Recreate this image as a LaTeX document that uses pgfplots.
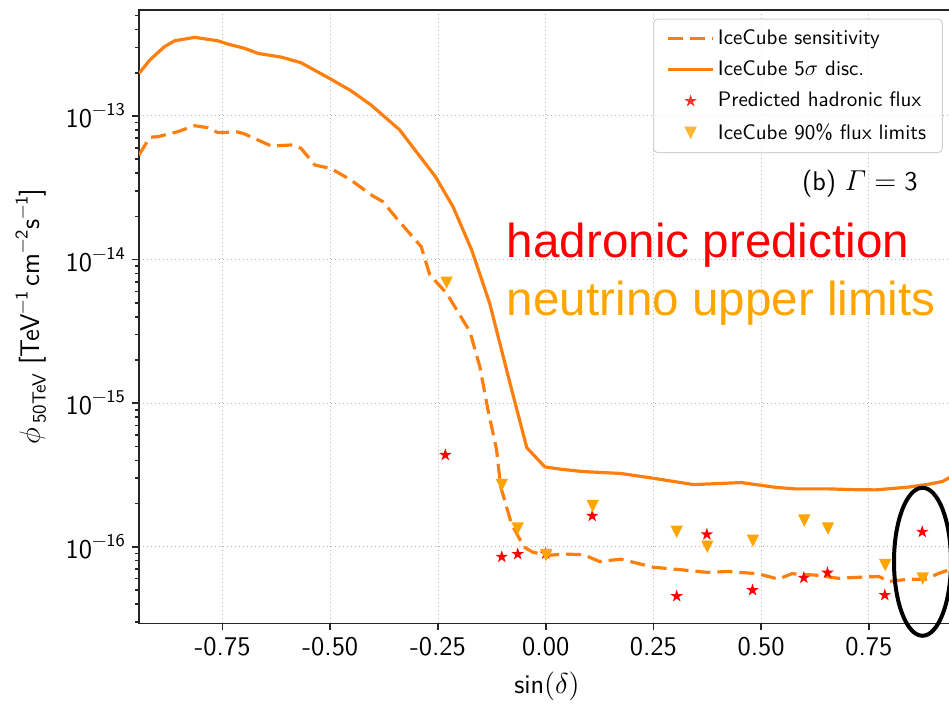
\documentclass[border=0pt]{standalone}
\usepackage{fontspec}
\usepackage{pgfplots}
\pgfplotsset{compat=1.18}
\newfontfamily\arialfont{Liberation Sans}
\definecolor{taborange}{HTML}{FF7F0E}
\definecolor{limorange}{HTML}{FFA500}
\definecolor{spine}{HTML}{262626}
\definecolor{gridgray}{HTML}{B0B0B0}
\newcommand{\tickfont}{\fontsize{13.5}{16}\selectfont\sffamily}
\newcommand{\supx}[1]{\raisebox{6pt}{\fontsize{9}{10}\selectfont #1}}
\newcommand{\subx}[1]{\raisebox{-3pt}{\fontsize{9.5}{10}\selectfont #1}}
\pgfdeclareplotmark{fstar}{%
  \pgfpathmoveto{\pgfqpointpolar{90}{\pgfplotmarksize}}%
  \pgfpathlineto{\pgfqpointpolar{126}{0.382\pgfplotmarksize}}%
  \pgfpathlineto{\pgfqpointpolar{162}{\pgfplotmarksize}}%
  \pgfpathlineto{\pgfqpointpolar{198}{0.382\pgfplotmarksize}}%
  \pgfpathlineto{\pgfqpointpolar{234}{\pgfplotmarksize}}%
  \pgfpathlineto{\pgfqpointpolar{270}{0.382\pgfplotmarksize}}%
  \pgfpathlineto{\pgfqpointpolar{306}{\pgfplotmarksize}}%
  \pgfpathlineto{\pgfqpointpolar{342}{0.382\pgfplotmarksize}}%
  \pgfpathlineto{\pgfqpointpolar{18}{\pgfplotmarksize}}%
  \pgfpathlineto{\pgfqpointpolar{54}{0.382\pgfplotmarksize}}%
  \pgfpathclose\pgfusepathqfill}
\pgfdeclareplotmark{vtri}{%
  \pgfpathmoveto{\pgfqpoint{0pt}{-\pgfplotmarksize}}%
  \pgfpathlineto{\pgfqpoint{-\pgfplotmarksize}{\pgfplotmarksize}}%
  \pgfpathlineto{\pgfqpoint{\pgfplotmarksize}{\pgfplotmarksize}}%
  \pgfpathclose\pgfusepathqfill}
\pgfplotsset{
  lineleg/.style={legend image code/.code={\draw[##1] (0pt,0pt) -- (22.5pt,0pt);}},
  markleg/.style={legend image code/.code={\draw[##1] plot coordinates {(11.25pt,0pt)};}},
}

\pgfplotstableread{
x y
-0.944 1.98e-13
-0.919 2.45e-13
-0.885 3.04e-13
-0.861 3.34e-13
-0.815 3.53e-13
-0.761 3.34e-13
-0.738 3.17e-13
-0.699 2.96e-13
-0.668 2.73e-13
-0.614 2.57e-13
-0.568 2.35e-13
-0.498 1.80e-13
-0.452 1.50e-13
-0.405 1.19e-13
-0.339 8.0e-14
-0.256 3.78e-14
-0.215 2.33e-14
-0.172 1.17e-14
-0.130 4.96e-15
-0.083 1.38e-15
-0.044 4.9e-16
-0.002 3.6e-16
0.034 3.47e-16
0.087 3.34e-16
0.174 3.24e-16
0.250 3.0e-16
0.343 2.71e-16
0.454 2.8e-16
0.535 2.59e-16
0.579 2.53e-16
0.657 2.53e-16
0.713 2.5e-16
0.766 2.49e-16
0.840 2.6e-16
0.890 2.73e-16
0.921 2.85e-16
0.941 3.08e-16
0.950 3.2e-16
}\discdata

\pgfplotstableread{
x y
-0.944 5.35e-14
-0.919 7.11e-14
-0.900 7.18e-14
-0.854 7.78e-14
-0.815 8.56e-14
-0.784 8.29e-14
-0.761 7.66e-14
-0.715 7.74e-14
-0.699 7.50e-14
-0.637 6.18e-14
-0.591 6.28e-14
-0.568 5.96e-14
-0.536 4.56e-14
-0.498 4.30e-14
-0.452 3.58e-14
-0.405 2.82e-14
-0.378 2.53e-14
-0.343 1.89e-14
-0.289 1.23e-14
-0.269 7.82e-15
-0.230 5.83e-15
-0.176 3.15e-15
-0.153 1.80e-15
-0.134 8.97e-16
-0.114 4.72e-16
-0.1045 2.62e-16
-0.080 1.46e-16
-0.051 1.0e-16
-0.031 9.2e-17
0.002 8.7e-17
0.043 8.9e-17
0.088 8.8e-17
0.125 7.9e-17
0.174 8.2e-17
0.250 7.2e-17
0.314 6.92e-17
0.376 6.63e-17
0.423 6.73e-17
0.493 6.49e-17
0.540 5.95e-17
0.571 6.49e-17
0.625 6.35e-17
0.680 6.03e-17
0.734 6.15e-17
0.773 6.21e-17
0.797 5.74e-17
0.843 5.95e-17
0.882 5.95e-17
0.914 6.56e-17
0.941 6.98e-17
0.950 7.2e-17
}\sensdata

\pgfplotstableread{
x y
-0.233 4.36e-16
-0.102 8.51e-17
-0.065 8.89e-17
0.000 8.97e-17
0.108 1.64e-16
0.304 4.53e-17
0.374 1.22e-16
0.480 4.99e-17
0.599 6.08e-17
0.654 6.59e-17
0.787 4.61e-17
0.874 1.27e-16
}\hadrdata

\pgfplotstableread{
x y
-0.230 6.9e-15
-0.102 2.69e-16
-0.065 1.34e-16
0.001 8.75e-17
0.109 1.92e-16
0.304 1.27e-16
0.375 1.0e-16
0.481 1.10e-16
0.600 1.52e-16
0.655 1.34e-16
0.788 7.45e-17
0.875 6.0e-17
}\limdata

\begin{document}
\begin{tikzpicture}
\begin{axis}[
  name=ax,
  scale only axis,
  width=408pt, height=306.65pt,
  xmin=-0.944, xmax=0.95,
  ymode=log, ymin=2.93e-17, ymax=5.47e-13,
  axis line style={spine, line width=0.8pt},
  tick style={spine, line width=0.8pt},
  tick align=outside,
  tick pos=left,
  major tick length=3.5pt, minor tick length=2pt,
  xtick={-0.75,-0.5,-0.25,0,0.25,0.5,0.75},
  xticklabels={-0.75,-0.50,-0.25,0.00,0.25,0.50,0.75},
  ytick={1e-16,1e-15,1e-14,1e-13},
  yticklabels={10\supx{−16},10\supx{−15},10\supx{−14},10\supx{−13}},
  minor ytick={3e-17,4e-17,5e-17,6e-17,7e-17,8e-17,9e-17,
    2e-16,3e-16,4e-16,5e-16,6e-16,7e-16,8e-16,9e-16,
    2e-15,3e-15,4e-15,5e-15,6e-15,7e-15,8e-15,9e-15,
    2e-14,3e-14,4e-14,5e-14,6e-14,7e-14,8e-14,9e-14,
    2e-13,3e-13,4e-13,5e-13},
  xticklabel style={font=\tickfont},
  yticklabel style={font=\tickfont},
  grid=major,
  major grid style={gridgray, line width=0.5pt, dash pattern=on 0.6pt off 1.4pt},
  xlabel={sin$(\delta)$},
  xlabel style={font=\tickfont, at={(axis description cs:0.5,0)}, anchor=base, yshift=-34.85pt},
  ylabel={$\phi$\,\subx{50TeV} [TeV\supx{−1}\,cm\supx{−2}s\supx{−1}]},
  ylabel style={font=\tickfont, at={(axis description cs:-0.1324,0.5)}, anchor=center},
  clip mode=individual,
  legend cell align=left,
  legend style={at={(0.985,0.986)}, anchor=north east,
    draw=gray!35, line width=0.5pt, rounded corners=2pt,
    fill=white, fill opacity=0.8, text opacity=1,
    font=\fontsize{10.5}{12}\selectfont\sffamily,
    inner xsep=6.5pt, inner ysep=3.5pt, row sep=3.6pt,
    nodes={inner sep=1.6pt},
    /tikz/every even column/.append style={column sep=7.5pt}},
]
\addplot[taborange, line width=1.6pt, dash pattern=on 7.5pt off 3.5pt, lineleg]
  table[x=x,y=y]{\sensdata};
\addlegendentry{IceCube sensitivity}
\addplot[taborange, line width=1.6pt, lineleg]
  table[x=x,y=y]{\discdata};
\addlegendentry{IceCube 5$\sigma$ disc.}
\addplot[only marks, mark=fstar, mark size=3.3pt, red, draw=none, fill=red, markleg]
  table[x=x,y=y]{\hadrdata};
\addlegendentry{Predicted hadronic flux}
\addplot[only marks, mark=vtri, mark size=3.1pt, limorange, draw=none, fill=limorange, markleg]
  table[x=x,y=y]{\limdata};
\addlegendentry{IceCube 90\% flux limits}
\node[anchor=base west, inner sep=0pt, font=\fontsize{13.5}{16}\selectfont\sffamily]
  at (axis cs:0.594,3.02e-14) {(b) $\mathnormal{\Gamma}=\textsf{3}$};
\node[anchor=base west, inner sep=0pt, text=red, font=\fontsize{23.8}{28}\selectfont\arialfont]
  at (axis cs:-0.0908,1.026e-14) {hadronic prediction};
\node[anchor=base west, inner sep=0pt, text=limorange, font=\fontsize{23.8}{28}\selectfont\arialfont]
  at (axis cs:-0.0908,4.05e-15) {neutrino upper limits};
\coordinate (ellc) at (axis cs:0.8745,7.86e-17);
\end{axis}
\draw[black, line width=2pt] (ellc) ellipse [x radius=14.25pt, y radius=37pt];
\pgfresetboundingbox
\path[use as bounding box] ([xshift=-69.5pt,yshift=-39.85pt]ax.south west) rectangle ([xshift=405pt,yshift=5pt]ax.north west);
\end{tikzpicture}
\end{document}
